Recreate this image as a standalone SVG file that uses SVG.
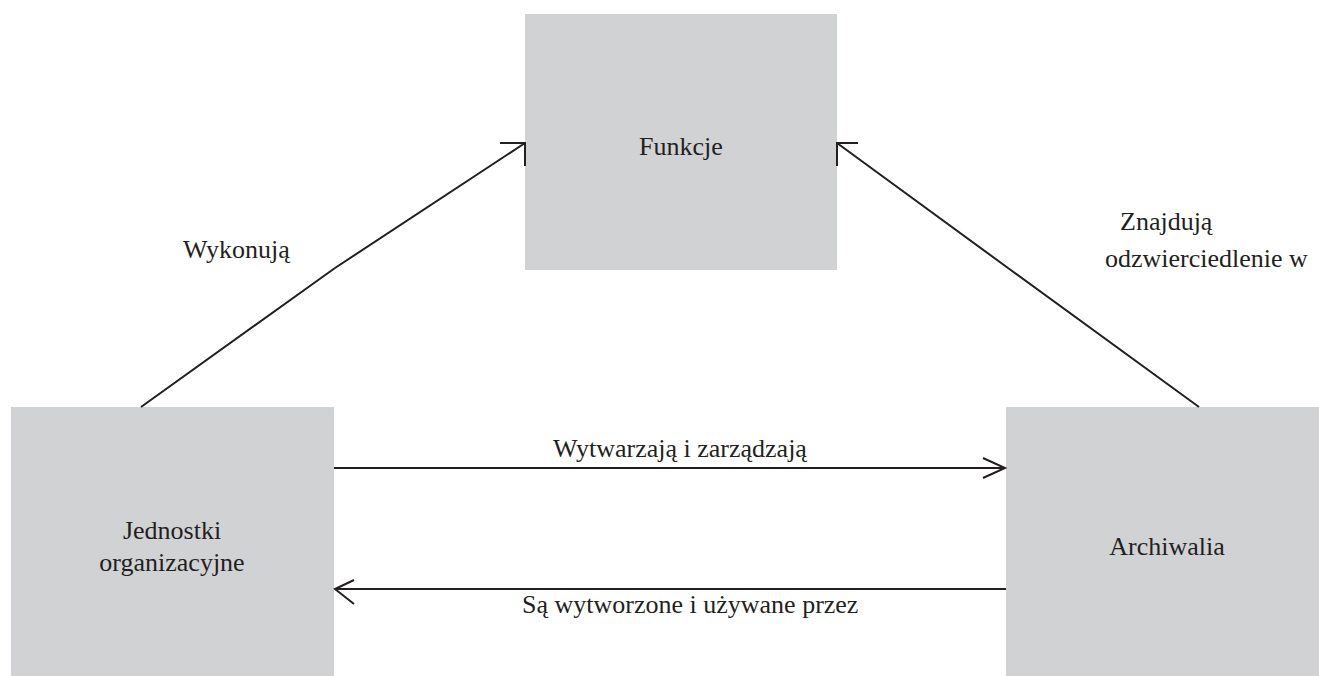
<svg xmlns="http://www.w3.org/2000/svg" width="1319" height="676" viewBox="0 0 1319 676">
<style>
.box{fill:#d1d2d4}
.t{font-family:"Liberation Serif","Times New Roman",serif;font-size:26px;fill:#231f20}
.c{text-anchor:middle}
.ln{fill:none;stroke:#231f20;stroke-width:2}
</style>
<rect width="1319" height="676" fill="#fff"/>
<g id="node-funkcje">
<rect class="box" x="525" y="14" width="312" height="256"/>
<text class="t c" x="681" y="155">Funkcje</text>
</g>
<g id="node-jednostki">
<rect class="box" x="11" y="407" width="323" height="269"/>
<text class="t c" x="172" y="539">Jednostki</text>
<text class="t c" x="172" y="571">organizacyjne</text>
</g>
<g id="node-archiwalia">
<rect class="box" x="1006" y="407" width="313" height="269"/>
<text class="t c" x="1167" y="555">Archiwalia</text>
</g>
<g id="connectors">
<polyline class="ln" points="141,407 335,268 525,143"/>
<polyline class="ln" points="500,143 525,143 525,166"/>
<polyline class="ln" points="1199,407 1008,268 837,143"/>
<polyline class="ln" points="858,143 837,143 837,166"/>
<line class="ln" x1="334" y1="468" x2="1005" y2="468"/>
<polyline class="ln" points="983,458 1005,468 983,478"/>
<line class="ln" x1="335" y1="589" x2="1006" y2="589"/>
<polyline class="ln" points="354,580 335,589 354,604"/>
</g>
<g id="labels">
<text class="t" x="183" y="258">Wykonują</text>
<text class="t" x="1120" y="230">Znajdują</text>
<text class="t" x="1105" y="267">odzwierciedlenie w</text>
<text class="t" x="553" y="457">Wytwarzają i zarządzają</text>
<text class="t" x="522" y="613">Są wytworzone i używane przez</text>
</g>
</svg>
